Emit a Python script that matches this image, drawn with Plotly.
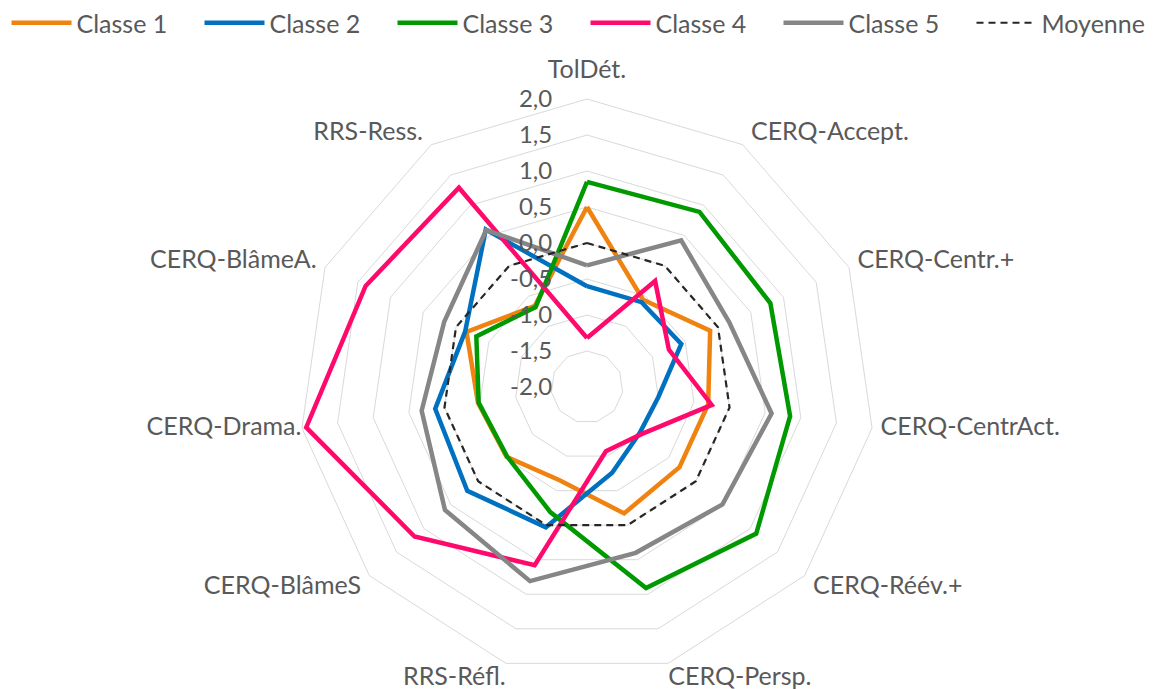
import plotly.graph_objects as go

categories = ["TolDét.", "CERQ-Accept.", "CERQ-Centr.+", "CERQ-CentrAct.", "CERQ-Réév.+",
              "CERQ-Persp.", "RRS-Réfl.", "CERQ-BlâmeS", "CERQ-Drama.", "CERQ-BlâmeA.", "RRS-Ress."]

classe1 = [0.50, -0.56, -0.12, -0.30, -0.30, -0.17, -0.65, -0.52, -0.47, -0.16, -0.66]
classe2 = [-0.60, -0.60, -0.56, -1.00, -1.03, -0.76, 0.03, 0.20, 0.13, -0.14, 0.60]
classe3 = [0.85, 0.89, 0.80, 0.85, 1.11, 0.91, -0.19, -0.53, -0.48, -0.31, -0.68]
classe4 = [-1.32, -0.25, -0.75, -0.25, -1.00, -1.07, 0.58, 1.17, 1.94, 1.38, 1.29]
classe5 = [-0.31, 0.42, 0.17, 0.59, 0.49, 0.40, 0.81, 0.61, 0.32, 0.18, 0.59]
moyenne = [0.0, 0.0, 0.0, 0.0, 0.0, 0.0, 0.0, 0.0, 0.0, 0.0, 0.0]

radial_ticks = [-2.0, -1.5, -1.0, -0.5, 0.0, 0.5, 1.0, 1.5, 2.0]
radial_tick_labels = ["-2,0", "-1,5", "-1,0", "-0,5", "0,0", "0,5", "1,0", "1,5", "2,0"]

series = [
    ("Classe 1", classe1, "#F0820F", 4.5, "solid"),
    ("Classe 2", classe2, "#0070C0", 4.5, "solid"),
    ("Classe 3", classe3, "#009A00", 4.5, "solid"),
    ("Classe 4", classe4, "#FF0A6C", 4.5, "solid"),
    ("Classe 5", classe5, "#868686", 4.5, "solid"),
    ("Moyenne", moyenne, "#262626", 2.2, "7px,5px"),
]

FONT = "Lato"
TXT = "#595959"
FS = 24          # radial tick labels
FS_CAT = 25      # category labels
FS_LEG = 25      # legend
W, H = 1171, 689
CX, CY, R = 587, 387, 288       # chart centre / radius in pixels
PAD = "\u00a0" * 5              # gap between radial labels and the axis

# Excel places category labels slightly differently from plotly; the labels are
# drawn by label-only polar subplots (same categories) nudged by a few pixels.
label_groups = [
    # (categories shown, dx, lift)
    (categories[0:1], 0, 16),
    (categories[1:5], 8, 5),
    (categories[5:7] + categories[8:9], 0, 5),
    (categories[7:8] + categories[9:11], -8, 5),
]

fig = go.Figure()
for name, vals, color, w, dash in series:
    fig.add_trace(go.Scatterpolar(
        r=vals + vals[:1],
        theta=categories + categories[:1],
        mode="lines",
        name=name,
        line=dict(color=color, width=w, dash=dash),
        subplot="polar",
    ))


def dom(dx, lift):
    return dict(x=[(CX - R + dx) / W, (CX + R + dx) / W],
                y=[(H - CY - R + lift) / H, (H - CY + R + lift) / H])


polars = {}
for i, (shown, dx, lift) in enumerate(label_groups):
    sp = "polar%d" % (i + 2)
    fig.add_trace(go.Scatterpolar(
        r=moyenne, theta=categories, mode="lines", subplot=sp,
        line=dict(width=0, color="rgba(0,0,0,0)"), showlegend=False, hoverinfo="skip",
    ))
    polars[sp] = dict(
        domain=dom(dx, lift),
        bgcolor="rgba(0,0,0,0)",
        gridshape="linear",
        angularaxis=dict(
            direction="clockwise", rotation=90,
            categoryorder="array", categoryarray=categories,
            tickmode="array", tickvals=shown, ticktext=shown,
            showgrid=False, showline=False, ticks="",
            tickfont=dict(family=FONT, size=FS_CAT, color=TXT),
        ),
        radialaxis=dict(range=[-2, 2], visible=False),
    )

fig.update_layout(
    width=W, height=H,
    margin=dict(l=0, r=0, t=0, b=0, autoexpand=False),
    paper_bgcolor="white",
    plot_bgcolor="white",
    font=dict(family=FONT, size=FS, color=TXT),
    legend=dict(
        orientation="h", x=0.5, y=1.0, xanchor="center", yanchor="top",
        entrywidth=118, entrywidthmode="pixels", itemwidth=60,
        font=dict(family=FONT, size=FS_LEG, color=TXT),
        bgcolor="rgba(0,0,0,0)",
    ),
    polar=dict(
        domain=dom(0, 0),
        bgcolor="white",
        gridshape="linear",
        angularaxis=dict(
            direction="clockwise", rotation=90,
            categoryorder="array", categoryarray=categories,
            showgrid=False, showline=True, linecolor="#D9D9D9", linewidth=1,
            ticks="", showticklabels=False,
        ),
        radialaxis=dict(
            range=[-2, 2], angle=90, tickangle=90, side="counterclockwise",
            tickvals=radial_ticks, ticktext=[t + PAD for t in radial_tick_labels],
            showline=False, ticks="", showgrid=True, gridcolor="#D9D9D9", gridwidth=1,
            tickfont=dict(family=FONT, size=FS, color=TXT),
        ),
    ),
    **polars,
)

fig.write_html("out.html", config={"displayModeBar": False},
               post_script="document.body.style.margin='0';document.body.style.padding='0';")
